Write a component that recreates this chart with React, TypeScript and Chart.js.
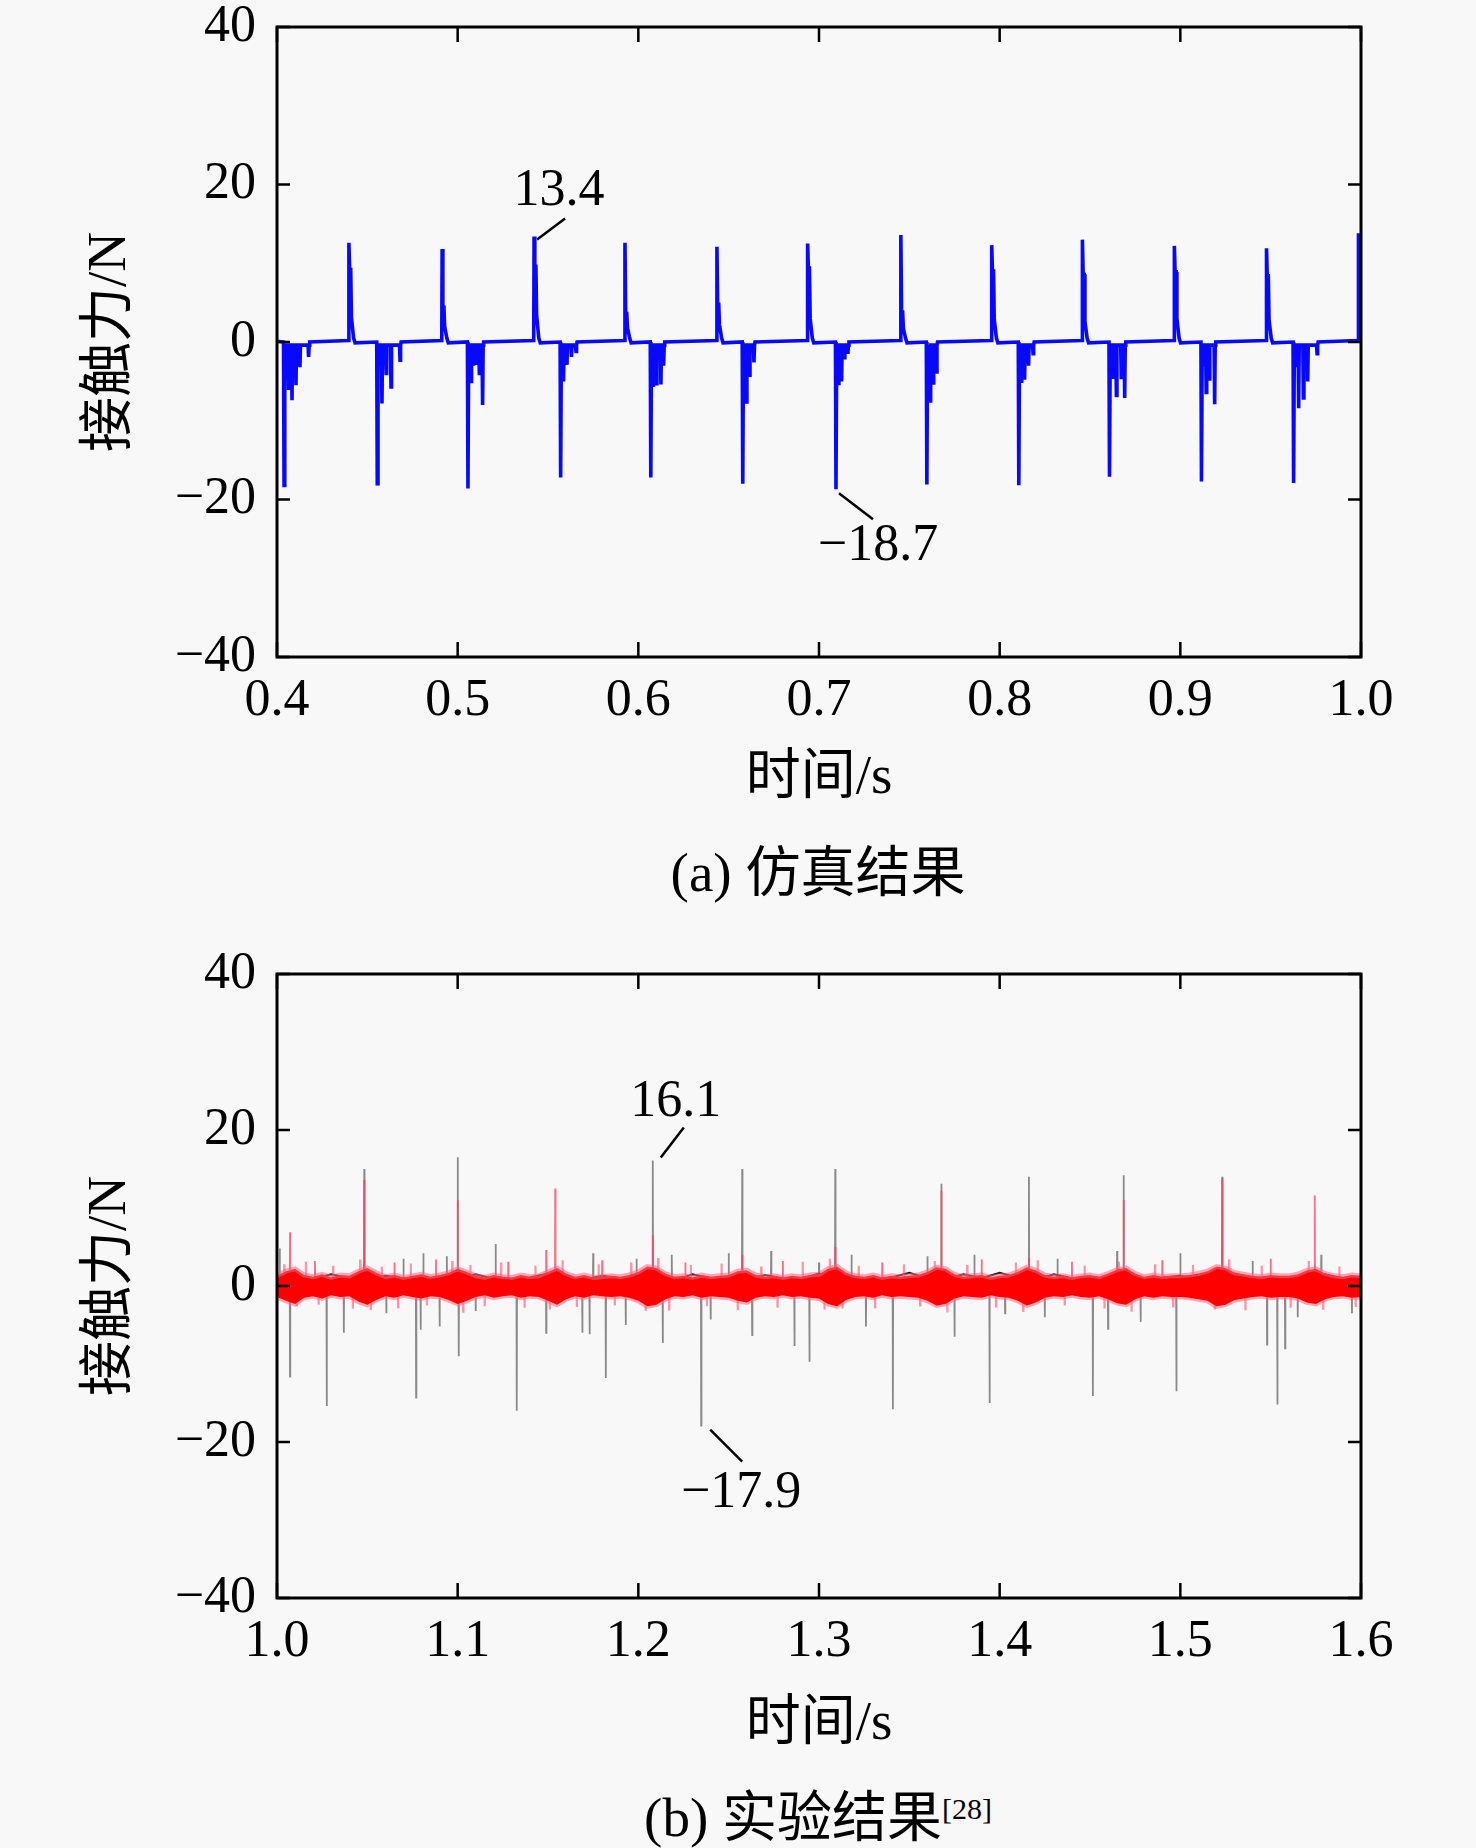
import React, { useEffect, useRef } from 'react';
import { Chart, registerables } from 'chart.js';

Chart.register(...registerables);

// ---- (a) simulation: contact force spikes ----
const simPosTimes = [0.4398, 0.4914, 0.5423, 0.5926, 0.6435, 0.6937, 0.7453, 0.7956, 0.8458, 0.8967, 0.9477, 0.9986];
const simPosPeaks = [12.6, 11.8, 13.4, 12.6, 12.1, 12.5, 13.6, 12.3, 13.0, 12.2, 11.9, 13.8];
const simPosShoulders = [9.2, 4.4, 9.6, 3.6, 4.8, 9.4, 3.8, 9.0, 8.6, 8.9, 8.4, 9.0];
const simPosTails = [3.1, 2.0, 3.4, 1.8, 2.2, 3.0, 1.7, 2.9, 2.6, 3.0, 2.8, 3.0];

const simNegTimes = [0.4039, 0.4555, 0.5057, 0.557, 0.6069, 0.6578, 0.7094, 0.7597, 0.8106, 0.8608, 0.9117, 0.9627];
const simNegPeaks = [-18.2, -18.0, -18.6, -17.2, -17.2, -18.0, -18.7, -18.1, -18.2, -17.1, -17.7, -17.9];
const simNegSubTimes = [
  [0.4052, 0.4064, 0.4083, 0.4105, 0.4127, 0.4175],
  [0.4568, 0.4581, 0.4604, 0.4631, 0.4681],
  [0.5066, 0.5074, 0.5088, 0.5102, 0.512, 0.5138],
  [0.5579, 0.5586, 0.5605, 0.563, 0.5655],
  [0.6077, 0.6084, 0.61, 0.6125, 0.614],
  [0.6588, 0.6598, 0.6615, 0.664],
  [0.7102, 0.711, 0.7125, 0.714, 0.716],
  [0.7606, 0.7615, 0.7632, 0.765],
  [0.8114, 0.8122, 0.8138, 0.816, 0.8185],
  [0.8617, 0.8627, 0.8646, 0.8673, 0.8692],
  [0.9128, 0.9143, 0.916, 0.919],
  [0.964, 0.9655, 0.9681, 0.9705, 0.9757],
];
const simNegSubValues = [
  [-2.8, -6.1, -7.4, -5.5, -3.2, -1.9],
  [-3.0, -7.8, -4.0, -5.7, -2.3],
  [-3.4, -5.0, -3.0, -2.7, -4.0, -8.0],
  [-3.2, -5.0, -2.9, -1.9, -1.2],
  [-3.0, -5.7, -5.3, -5.4, -3.0],
  [-3.1, -7.6, -4.2, -2.6],
  [-2.9, -5.5, -5.0, -2.0, -1.5],
  [-3.3, -7.5, -5.2, -3.8],
  [-3.0, -5.2, -4.8, -3.0, -1.5],
  [-2.8, -4.7, -6.8, -4.5, -7.1],
  [-3.1, -6.4, -4.7, -7.9],
  [-3.2, -8.4, -7.1, -5.0, -1.5],
];

// ---- (b) experiment ----
const expGrayTimes = [
  1.0015, 1.0072, 1.0275, 1.037, 1.0483, 1.0605, 1.07, 1.077, 1.0795, 1.081,
  1.09, 1.094, 1.1, 1.1006, 1.11, 1.121, 1.1327, 1.149, 1.169, 1.173,
  1.175, 1.182, 1.193, 1.199, 1.208, 1.2135, 1.2185, 1.2348, 1.24, 1.25,
  1.2575, 1.263, 1.2735, 1.2864, 1.2947, 1.3, 1.309, 1.318, 1.326, 1.3409,
  1.36, 1.3677, 1.375, 1.386, 1.3944, 1.403, 1.4162, 1.425, 1.432, 1.4516,
  1.46, 1.465, 1.4686, 1.478, 1.4978, 1.5, 1.5232, 1.54, 1.548, 1.5537,
  1.558, 1.565, 1.578, 1.595,
];
const expGrayValues = [
  4.8, -11.6, -15.4, -6.0, 15.0, -3.5, 3.5, -14.3, -5.6, 4.2,
  -5.2, 3.8, 16.5, -9.0, -3.2, 5.4, -16.0, -6.0, -6.0, -6.2,
  4.2, -11.8, -5.0, 3.5, 16.1, -7.3, 4.0, -17.9, -4.3, 4.2,
  15.0, -6.3, 4.5, -7.7, -9.7, 3.0, 15.0, 4.0, -5.2, -15.8,
  3.8, 13.1, -6.5, 4.0, -15.0, -3.5, 14.0, -4.0, 3.5, -14.1,
  -5.5, 4.5, 14.2, -4.6, -13.5, 4.2, 14.0, 3.2, -7.5, -15.2,
  -8.0, -4.0, 4.0, -3.5,
];
const expRedTimes = [
  1.0072, 1.021, 1.0483, 1.065, 1.088, 1.1, 1.128, 1.149, 1.154, 1.18,
  1.208, 1.226, 1.2575, 1.28, 1.309, 1.335, 1.3677, 1.39, 1.4162, 1.44,
  1.4686, 1.49, 1.5232, 1.55, 1.5744,
];
const expRedValues = [
  6.9, 3.2, 13.6, 3.0, 3.4, 11.0, 3.1, 4.6, 12.5, 3.3,
  6.5, 3.0, 4.0, 3.2, 5.0, 3.0, 12.2, 3.4, 3.6, 3.1,
  11.0, 3.3, 13.8, 3.5, 11.6,
];
// small pink fuzz around the noise band
const fuzzTimes = [
  1.004, 1.011, 1.016, 1.023, 1.031, 1.042, 1.046, 1.052, 1.058, 1.067,
  1.074, 1.083, 1.097, 1.103, 1.107, 1.115, 1.124, 1.137, 1.143, 1.151,
  1.158, 1.166, 1.178, 1.187, 1.196, 1.204, 1.211, 1.217, 1.229, 1.238,
  1.246, 1.255, 1.268, 1.277, 1.291, 1.303, 1.306, 1.313, 1.322, 1.331,
  1.347, 1.356, 1.364, 1.371, 1.382, 1.398, 1.409, 1.413, 1.421, 1.436,
  1.447, 1.458, 1.466, 1.473, 1.486, 1.496, 1.507, 1.519, 1.527, 1.536,
  1.545, 1.561, 1.571, 1.579, 1.588, 1.597,
];
const fuzzValues = [
  2.8, -2.6, 3.1, -2.4, 2.6, -2.9, 3.4, -3.1, 2.5, -2.7,
  2.9, -2.5, 3.2, -3.3, 2.7, -2.6, 3.0, -2.8, 2.6, -3.0,
  3.3, -2.7, 2.8, -2.5, 3.0, -3.2, 3.6, -3.0, 2.7, -2.6,
  2.9, -3.1, 2.5, -2.8, 3.1, -3.0, 3.5, -2.9, 2.6, -2.7,
  2.8, -2.5, 3.2, -3.4, 2.7, -2.6, 3.0, -3.2, 3.3, -2.5,
  2.6, -2.9, 3.1, -3.3, 2.8, -2.6, 2.7, -3.0, 3.4, -3.1,
  2.6, -2.8, 3.2, -2.9, 2.5, -2.7,
];
// red noise band envelope, one value every 5 ms from 1.0 s
const bandUpper = [
  1.3, 1.9, 2.2, 1.4, 1.2, 1.5, 1.1, 1.4, 1.3, 1.9,
  2.3, 1.7, 1.2, 1.4, 1.1, 1.3, 1.5, 1.2, 1.4, 1.7,
  2.2, 1.8, 1.3, 1.1, 1.4, 1.2, 1.1, 1.4, 1.2, 1.3,
  1.8, 2.3, 1.6, 1.2, 1.4, 1.1, 1.2, 1.3, 1.2, 1.4,
  1.8, 2.5, 2.3, 1.6, 1.2, 1.3, 1.1, 1.4, 1.2, 1.3,
  1.4, 1.9, 2.0, 1.4, 1.2, 1.3, 1.1, 1.3, 1.2, 1.4,
  1.5, 2.2, 2.5, 1.7, 1.3, 1.2, 1.4, 1.1, 1.3, 1.2,
  1.3, 1.4, 1.8, 2.4, 2.2, 1.5, 1.2, 1.3, 1.4, 1.1,
  1.3, 1.4, 1.8, 2.4, 2.0, 1.4, 1.2, 1.3, 1.1, 1.3,
  1.4, 1.2, 1.6, 2.1, 2.3, 1.6, 1.2, 1.4, 1.2, 1.3,
  1.3, 1.4, 1.6, 1.9, 2.5, 2.3, 1.7, 1.5, 1.3, 1.2,
  1.4, 1.3, 1.3, 1.5, 2.0, 2.2, 1.6, 1.3, 1.2, 1.4,
  1.3,
];
const bandLower = [
  -1.4, -1.9, -2.3, -1.5, -1.3, -1.6, -1.2, -1.4, -1.3, -2.0,
  -2.4, -1.8, -1.3, -1.5, -1.2, -1.4, -1.6, -1.3, -1.4, -1.8,
  -2.3, -1.9, -1.4, -1.2, -1.5, -1.3, -1.2, -1.5, -1.3, -1.4,
  -1.9, -2.4, -1.7, -1.3, -1.5, -1.2, -1.3, -1.4, -1.3, -1.5,
  -1.9, -2.6, -2.4, -1.7, -1.3, -1.4, -1.2, -1.5, -1.3, -1.4,
  -1.5, -1.9, -2.1, -1.5, -1.3, -1.4, -1.2, -1.4, -1.3, -1.5,
  -1.6, -2.3, -2.6, -1.8, -1.4, -1.3, -1.5, -1.2, -1.4, -1.3,
  -1.4, -1.5, -1.9, -2.5, -2.3, -1.6, -1.3, -1.4, -1.5, -1.2,
  -1.4, -1.5, -1.9, -2.5, -2.1, -1.5, -1.3, -1.4, -1.2, -1.4,
  -1.5, -1.3, -1.7, -2.2, -2.4, -1.7, -1.3, -1.5, -1.3, -1.4,
  -1.4, -1.5, -1.7, -1.9, -2.6, -2.4, -1.8, -1.6, -1.4, -1.3,
  -1.5, -1.4, -1.4, -1.6, -2.1, -2.3, -1.7, -1.4, -1.3, -1.5,
  -1.4,
];
// dark trace near the baseline, one value every 10 ms from 1.0 s
const blackBase = [
  0.7, 1.1, 0.9, 1.5, 1.0, 0.6, 1.3, 1.0, 0.8, 1.2,
  1.0, 1.5, 0.9, 0.7, 1.1, 1.6, 1.0, 0.8, 1.3, 1.0,
  0.9, 1.2, 0.7, 1.5, 1.0, 1.1, 0.8, 1.4, 1.0, 0.9,
  1.6, 1.0, 1.2, 0.8, 1.1, 1.7, 1.0, 0.9, 1.5, 1.0,
  1.7, 1.1, 0.8, 1.5, 1.0, 1.2, 0.9, 1.6, 1.0, 1.1,
  1.3, 0.8, 1.0, 1.6, 1.0, 1.2, 0.9, 1.1, 1.5, 1.0,
  1.2,
];

const xTicksA = [0.4, 0.5, 0.6, 0.7, 0.8, 0.9, 1.0];
const xTicksB = [1.0, 1.1, 1.2, 1.3, 1.4, 1.5, 1.6];
const yTicks = [-40, -20, 0, 20, 40];

const SERIF = '"Liberation Serif", "Times New Roman", serif';
const MIXED = '"Liberation Serif", "Noto Sans CJK SC", serif';

type Pt = { x: number; y: number };

function buildSim(): Pt[] {
  const events: { t: number; pts: Pt[] }[] = [];
  simPosTimes.forEach((t, i) => {
    events.push({
      t,
      pts: [
        { x: t - 0.0002, y: 0.2 },
        { x: t, y: simPosPeaks[i] },
        { x: t + 0.0004, y: simPosShoulders[i] },
        { x: t + 0.001, y: simPosShoulders[i] },
        { x: t + 0.0014, y: simPosTails[i] },
        { x: t + 0.0026, y: 0.5 },
        { x: t + 0.0034, y: -0.1 },
      ],
    });
  });
  simNegTimes.forEach((t, i) => {
    const pts: Pt[] = [
      { x: t - 0.0003, y: 0 },
      { x: t, y: simNegPeaks[i] },
      { x: t + 0.0004, y: -0.4 },
    ];
    simNegSubTimes[i].forEach((ts, k) => {
      pts.push({ x: ts - 0.0003, y: -0.4 }, { x: ts, y: simNegSubValues[i][k] }, { x: ts + 0.0003, y: -0.4 });
    });
    const last = simNegSubTimes[i][simNegSubTimes[i].length - 1];
    pts.push({ x: last + 0.0006, y: 0 });
    events.push({ t, pts });
  });
  events.sort((a, b) => a.t - b.t);
  const out: Pt[] = [{ x: 0.4, y: 0.1 }];
  events.forEach((e) => out.push(...e.pts));
  out.push({ x: 1.0, y: 0.2 });
  return out;
}

function buildSpikes(times: number[], values: number[], base: number, x0: number, x1: number): Pt[] {
  const out: Pt[] = [{ x: x0, y: base }];
  times.forEach((t, i) => {
    out.push({ x: t - 0.00015, y: base }, { x: t, y: values[i] }, { x: t + 0.00015, y: base });
  });
  out.push({ x: x1, y: base });
  return out;
}

const sampled = (vals: number[], start: number, step: number): Pt[] =>
  vals.map((v, i) => ({ x: start + i * step, y: v }));

interface Note {
  x: number;
  y: number;
  text: string;
  line: number[];
  label: number[];
}

const notesA: Note[] = [
  { x: 0.5423, y: 13.4, text: '13.4', line: [3, 3, 31, -18], label: [25, -45] },
  { x: 0.7094, y: -18.7, text: '\u221218.7', line: [3, 4, 37, 30], label: [42, 57] },
];
const notesB: Note[] = [
  { x: 1.208, y: 16.1, text: '16.1', line: [8, -3, 31, -33], label: [23, -58] },
  { x: 1.2348, y: -17.9, text: '\u221217.9', line: [9, 4, 41, 36], label: [40, 68] },
];

const framePlugin = {
  id: 'frame',
  afterDraw(chart: any) {
    const { ctx, chartArea, scales } = chart;
    const { left, right, top, bottom } = chartArea;
    ctx.save();
    ctx.strokeStyle = '#000';
    ctx.lineWidth = 2.5;
    ctx.beginPath();
    scales.x.ticks.forEach((t: any) => {
      const px = scales.x.getPixelForValue(t.value);
      ctx.moveTo(px, bottom);
      ctx.lineTo(px, bottom - 15);
      ctx.moveTo(px, top);
      ctx.lineTo(px, top + 15);
    });
    scales.y.ticks.forEach((t: any) => {
      const py = scales.y.getPixelForValue(t.value);
      ctx.moveTo(left, py);
      ctx.lineTo(left + 13, py);
      ctx.moveTo(right, py);
      ctx.lineTo(right - 13, py);
    });
    ctx.stroke();
    ctx.lineWidth = 3;
    ctx.strokeRect(left, top, right - left, bottom - top);
    ctx.restore();
  },
};

const makeNotesPlugin = (notes: Note[]) => ({
  id: 'notes',
  afterDraw(chart: any) {
    const { ctx, scales } = chart;
    ctx.save();
    notes.forEach((n) => {
      const px = scales.x.getPixelForValue(n.x);
      const py = scales.y.getPixelForValue(n.y);
      ctx.strokeStyle = '#000';
      ctx.lineWidth = 2.5;
      ctx.beginPath();
      ctx.moveTo(px + n.line[0], py + n.line[1]);
      ctx.lineTo(px + n.line[2], py + n.line[3]);
      ctx.stroke();
      ctx.fillStyle = '#000';
      ctx.font = `52px ${SERIF}`;
      ctx.textAlign = 'center';
      ctx.textBaseline = 'middle';
      ctx.fillText(n.text, px + n.label[0], py + n.label[1]);
    });
    ctx.restore();
  },
});

interface PanelProps {
  datasets: any[];
  xMin: number;
  xMax: number;
  xTicks: number[];
  notes: Note[];
  height: number;
  padTop: number;
  xAxisHeight: number;
}

const PanelChart: React.FC<PanelProps> = ({ datasets, xMin, xMax, xTicks, notes, height, padTop, xAxisHeight }) => {
  const canvasRef = useRef<HTMLCanvasElement | null>(null);

  useEffect(() => {
    if (!canvasRef.current) return;
    const tickFont = { family: SERIF, size: 52 };
    const titleFont = { family: MIXED, size: 55 };
    const chart = new Chart(canvasRef.current, {
      type: 'line',
      data: { datasets },
      plugins: [framePlugin, makeNotesPlugin(notes)],
      options: {
        responsive: false,
        animation: false,
        layout: { padding: { top: padTop, right: 115, bottom: 5, left: 0 } },
        elements: { point: { radius: 0 }, line: { tension: 0 } },
        plugins: { legend: { display: false }, tooltip: { enabled: false } },
        scales: {
          x: {
            type: 'linear',
            min: xMin,
            max: xMax,
            afterBuildTicks: (s: any) => {
              s.ticks = xTicks.map((v) => ({ value: v }));
            },
            afterFit: (s: any) => {
              s.height = xAxisHeight;
            },
            ticks: {
              font: tickFont,
              color: '#000',
              padding: 13,
              maxRotation: 0,
              autoSkip: false,
              callback: (v: any) => Number(v).toFixed(1),
            },
            grid: { display: false, drawTicks: false },
            border: { display: false },
            title: { display: true, text: '时间/s', font: titleFont, color: '#000', padding: { top: 0, bottom: 5 } },
          },
          y: {
            type: 'linear',
            min: -40,
            max: 40,
            afterBuildTicks: (s: any) => {
              s.ticks = yTicks.map((v) => ({ value: v }));
            },
            afterFit: (s: any) => {
              s.width = 277;
            },
            ticks: {
              font: tickFont,
              color: '#000',
              padding: 21,
              callback: (v: any) => (Number(v) < 0 ? '\u2212' + Math.abs(Number(v)) : String(v)),
            },
            grid: { display: false, drawTicks: false },
            border: { display: false },
            title: { display: true, text: '接触力/N', font: titleFont, color: '#000', padding: { top: 78, bottom: 0 } },
          },
        },
      } as any,
    });
    return () => chart.destroy();
  }, [datasets, xMin, xMax, xTicks, notes, height, padTop, xAxisHeight]);

  return <canvas ref={canvasRef} width={1476} height={height} style={{ display: 'block', width: 1476, height }} />;
};

const simDatasets = [
  {
    label: '仿真',
    data: buildSim(),
    borderColor: '#0808ff',
    borderWidth: 3.6,
    fill: false,
  },
];

const expDatasets = [
  {
    label: 'band-upper',
    data: sampled(bandUpper, 1.0, 0.005),
    borderColor: 'rgba(255, 100, 125, 0.55)',
    borderWidth: 5,
    backgroundColor: '#ff0000',
    fill: '+1',
    order: 1,
  },
  {
    label: 'band-lower',
    data: sampled(bandLower, 1.0, 0.005),
    borderColor: 'rgba(255, 100, 125, 0.55)',
    borderWidth: 5,
    fill: false,
    order: 1,
  },
  {
    label: 'fuzz',
    data: buildSpikes(fuzzTimes, fuzzValues, 0, 1.0, 1.6),
    borderColor: 'rgba(255, 70, 100, 0.55)',
    borderWidth: 2.2,
    fill: false,
    order: 2,
  },
  {
    label: 'red-spikes',
    data: buildSpikes(expRedTimes, expRedValues, 0, 1.0, 1.6),
    borderColor: 'rgba(255, 60, 95, 0.75)',
    borderWidth: 1.8,
    fill: false,
    order: 2,
  },
  {
    label: 'black-base',
    data: sampled(blackBase, 1.0, 0.01),
    borderColor: '#1e1e1e',
    borderWidth: 2,
    fill: false,
    order: 3,
  },
  {
    label: 'gray-spikes',
    data: buildSpikes(expGrayTimes, expGrayValues, 0.5, 1.0, 1.6),
    borderColor: '#8a8a8a',
    borderWidth: 1.8,
    fill: false,
    order: 4,
  },
];

const captionStyle: React.CSSProperties = {
  position: 'absolute',
  left: 818,
  transform: 'translateX(-50%)',
  whiteSpace: 'nowrap',
  fontFamily: MIXED,
  fontSize: 55,
  lineHeight: '66px',
  color: '#000',
};

export default function App() {
  return (
    <div style={{ position: 'absolute', left: 0, top: 0, width: 1476, height: 1848, background: '#f8f8f8', overflow: 'hidden' }}>
      <div style={{ position: 'absolute', left: 0, top: -33 }}>
        <PanelChart
          datasets={simDatasets}
          xMin={0.4}
          xMax={1.0}
          xTicks={xTicksA}
          notes={notesA}
          height={855}
          padTop={60}
          xAxisHeight={160}
        />
      </div>
      <div style={{ ...captionStyle, top: 840 }}>(a) 仿真结果</div>
      <div style={{ position: 'absolute', left: 0, top: 914 }}>
        <PanelChart
          datasets={expDatasets}
          xMin={1.0}
          xMax={1.6}
          xTicks={xTicksB}
          notes={notesB}
          height={854}
          padTop={60}
          xAxisHeight={165}
        />
      </div>
      <div style={{ ...captionStyle, top: 1785 }}>
        (b) 实验结果<sup style={{ fontSize: 30, verticalAlign: 'top', lineHeight: '40px', position: 'relative', top: 4 }}>[28]</sup>
      </div>
    </div>
  );
}
